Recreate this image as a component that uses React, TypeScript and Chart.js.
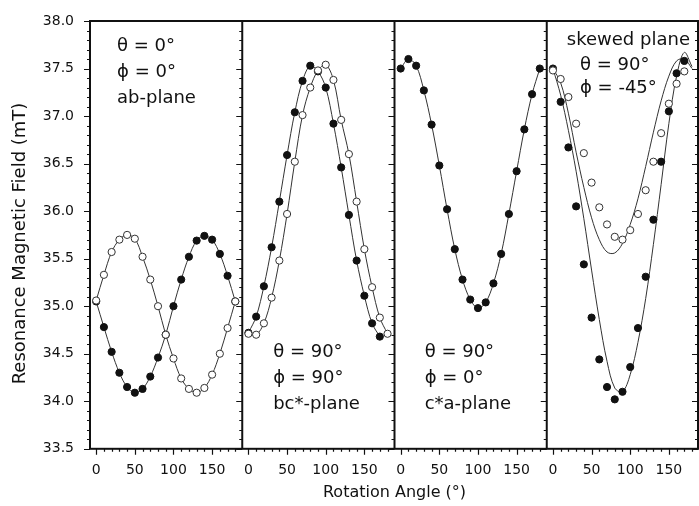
import React, { useEffect, useRef } from 'react';
import { Chart, registerables } from 'chart.js';

Chart.register(...registerables);

// ---- data ----
const ANGLES = [0, 10, 20, 30, 40, 50, 60, 70, 80, 90, 100, 110, 120, 130, 140, 150, 160, 170, 180];
const ANGLES_TO_170 = [0, 10, 20, 30, 40, 50, 60, 70, 80, 90, 100, 110, 120, 130, 140, 150, 160, 170];

// panel 1: ab-plane (theta = 0, phi = 0)
const AB_FILLED = [35.05, 34.78, 34.52, 34.30, 34.15, 34.09, 34.13, 34.26, 34.46, 34.70, 35.00, 35.28, 35.52, 35.69, 35.74, 35.70, 35.55, 35.32, 35.05];
const AB_OPEN = [35.06, 35.33, 35.57, 35.70, 35.75, 35.71, 35.52, 35.28, 35.00, 34.70, 34.45, 34.24, 34.13, 34.09, 34.14, 34.28, 34.50, 34.77, 35.05];

// panel 2: bc*-plane (theta = 90, phi = 90)
const BC_FILLED = [34.72, 34.89, 35.21, 35.62, 36.10, 36.59, 37.04, 37.37, 37.53, 37.47, 37.30, 36.92, 36.46, 35.96, 35.48, 35.11, 34.82, 34.68];
const BC_OPEN = [34.71, 34.70, 34.82, 35.09, 35.48, 35.97, 36.52, 37.01, 37.30, 37.48, 37.54, 37.38, 36.96, 36.60, 36.10, 35.60, 35.20, 34.88, 34.71];

// panel 3: c*a-plane (theta = 90, phi = 0)
const CA_FILLED = [37.50, 37.60, 37.53, 37.27, 36.91, 36.48, 36.02, 35.60, 35.28, 35.07, 34.98, 35.04, 35.24, 35.55, 35.97, 36.42, 36.86, 37.23, 37.50];

// panel 4: skewed plane (theta = 90, phi = -45)
const SK_FILLED = [37.50, 37.15, 36.67, 36.05, 35.44, 34.88, 34.44, 34.15, 34.02, 34.10, 34.36, 34.77, 35.31, 35.91, 36.52, 37.05, 37.45, 37.58];
const SK_OPEN = [37.48, 37.39, 37.20, 36.92, 36.61, 36.30, 36.04, 35.86, 35.73, 35.70, 35.80, 35.97, 36.22, 36.52, 36.82, 37.13, 37.34, 37.47];
const SK_FILLED_FIT = [37.50, 37.22, 36.85, 36.42, 35.92, 35.38, 34.86, 34.42, 34.14, 34.10, 34.28, 34.62, 35.08, 35.65, 36.28, 36.92, 37.42, 37.67, 37.52];
const SK_OPEN_FIT = [37.50, 37.35, 37.03, 36.62, 36.25, 35.93, 35.70, 35.57, 35.56, 35.66, 35.86, 36.13, 36.47, 36.83, 37.16, 37.42, 37.58, 37.60, 37.50];

// axes
const Y_MIN = 33.5;
const Y_MAX = 38.0;
const Y_TICKS = [33.5, 34.0, 34.5, 35.0, 35.5, 36.0, 36.5, 37.0, 37.5, 38.0];
const Y_MINOR_STEP = 0.1;
const X_MIN = -8;
const X_MAX = 189;
const X_TICKS = [0, 50, 100, 150];
const X_MINOR = [0, 10, 20, 30, 40, 50, 60, 70, 80, 90, 100, 110, 120, 130, 140, 150, 160, 170, 180];
const PANELS = ['x1', 'x2', 'x3', 'x4'];

const Y_TITLE = 'Resonance Magnetic Field (mT)   ';
const X_TITLE = 'Rotation Angle (°)';

const PANEL_LABELS = [
  { axis: 'x1', x: 27, y: 37.73, lines: ['θ = 0°', 'ϕ = 0°', 'ab-plane'], step: 26 },
  { axis: 'x2', x: 32, y: 34.51, lines: ['θ = 90°', 'ϕ = 90°', 'bc*-plane'], step: 26 },
  { axis: 'x3', x: 31, y: 34.51, lines: ['θ = 90°', 'ϕ = 0°', 'c*a-plane'], step: 26 },
  { axis: 'x4', x: 18, y: 37.80, lines: ['skewed plane'], step: 26 },
  { axis: 'x4', x: 35, y: 37.53, lines: ['θ = 90°', 'ϕ = -45°'], step: 23 },
];

const FONT = 'DejaVu Sans';
const INK = '#111';

const pts = (xs: number[], ys: number[]) => xs.map((x, i) => ({ x, y: ys[i] }));

const filledStyle = { pointRadius: 3.6, pointBackgroundColor: '#111', pointBorderColor: '#111', pointBorderWidth: 1 };
const openStyle = { pointRadius: 3.6, pointBackgroundColor: '#fff', pointBorderColor: '#333', pointBorderWidth: 1 };
const lineStyle = { borderColor: '#333', borderWidth: 1, tension: 0.35 };

const framePlugin = {
  id: 'frame',
  afterDatasetsDraw(chart: any) {
    const { ctx, chartArea: ca, scales } = chart;
    const y = scales.y;
    ctx.save();
    ctx.strokeStyle = INK;
    ctx.lineWidth = 2;
    ctx.strokeRect(ca.left, ca.top, ca.right - ca.left - 1, ca.bottom - ca.top);
    const verticals = [ca.left, ...PANELS.map((id) => Math.min(scales[id].right, ca.right - 1))];
    ctx.beginPath();
    for (const vx of verticals) {
      ctx.moveTo(vx, ca.top);
      ctx.lineTo(vx, ca.bottom);
    }
    ctx.stroke();
    ctx.lineWidth = 1.2;
    ctx.beginPath();
    const n = Math.round((Y_MAX - Y_MIN) / Y_MINOR_STEP);
    for (const vx of verticals) {
      for (let i = 0; i <= n; i++) {
        const py = Math.round(y.getPixelForValue(Y_MIN + i * Y_MINOR_STEP)) + 0.5;
        const len = i % 5 === 0 ? 6 : 3;
        ctx.moveTo(vx - len, py);
        ctx.lineTo(vx, py);
      }
    }
    for (const id of PANELS) {
      const s = scales[id];
      for (const a of X_MINOR) {
        const px = Math.round(s.getPixelForValue(a)) + 0.5;
        const len = a % 50 === 0 ? 6 : 3;
        ctx.moveTo(px, ca.bottom);
        ctx.lineTo(px, ca.bottom + len);
      }
    }
    ctx.stroke();
    ctx.restore();
  },
};

const labelPlugin = {
  id: 'panelLabels',
  afterDatasetsDraw(chart: any) {
    const { ctx, scales } = chart;
    ctx.save();
    ctx.font = `18px "${FONT}"`;
    ctx.fillStyle = INK;
    ctx.textAlign = 'left';
    ctx.textBaseline = 'middle';
    for (const lab of PANEL_LABELS) {
      const px = scales[lab.axis].getPixelForValue(lab.x);
      const py = scales.y.getPixelForValue(lab.y);
      lab.lines.forEach((t, i) => ctx.fillText(t, px, py + i * lab.step));
    }
    ctx.restore();
  },
};

const xAxis = () => ({
  type: 'linear',
  position: 'bottom',
  stack: 'panels',
  stackWeight: 1,
  min: X_MIN,
  max: X_MAX,
  afterBuildTicks: (s: any) => {
    s.ticks = X_TICKS.map((v) => ({ value: v }));
  },
  afterFit: (s: any) => {
    s.height = 30;
  },
  ticks: {
    autoSkip: false,
    maxRotation: 0,
    padding: 0,
    color: INK,
    font: { family: FONT, size: 14 },
    callback: (v: number) => String(v),
  },
  grid: { display: false, drawTicks: true, tickLength: 13 },
  border: { display: false },
});

export default function App() {
  const ref = useRef<HTMLCanvasElement>(null);

  useEffect(() => {
    if (!ref.current) return;
    const chart = new Chart(ref.current, {
      type: 'scatter',
      data: {
        datasets: [
          // panel 1
          { xAxisID: 'x1', data: pts(ANGLES, AB_OPEN), showLine: true, ...lineStyle, ...openStyle },
          { xAxisID: 'x1', data: pts(ANGLES, AB_FILLED), showLine: true, ...lineStyle, ...filledStyle },
          // panel 2
          { xAxisID: 'x2', data: pts(ANGLES, BC_OPEN), showLine: true, ...lineStyle, ...openStyle },
          { xAxisID: 'x2', data: pts(ANGLES_TO_170, BC_FILLED), showLine: true, ...lineStyle, ...filledStyle },
          // panel 3
          { xAxisID: 'x3', data: pts(ANGLES, CA_FILLED), showLine: true, ...lineStyle, ...filledStyle },
          // panel 4
          { xAxisID: 'x4', data: pts(ANGLES_TO_170, SK_OPEN), showLine: false, ...openStyle },
          { xAxisID: 'x4', data: pts(ANGLES_TO_170, SK_FILLED), showLine: false, ...filledStyle },
          { xAxisID: 'x4', data: pts(ANGLES, SK_OPEN_FIT), showLine: true, pointRadius: 0, ...lineStyle },
          { xAxisID: 'x4', data: pts(ANGLES, SK_FILLED_FIT), showLine: true, pointRadius: 0, ...lineStyle },
        ] as any,
      },
      options: {
        animation: false,
        responsive: false,
        layout: { autoPadding: false, padding: { top: 21, right: 0, left: 0, bottom: 0 } },
        plugins: {
          legend: { display: false },
          tooltip: { enabled: false },
          title: {
            display: true,
            text: X_TITLE,
            position: 'bottom',
            fullSize: false,
            color: INK,
            font: { family: FONT, size: 16, weight: 'normal' },
            padding: { top: 4, bottom: 4 },
          },
        },
        scales: {
          x1: xAxis(),
          x2: xAxis(),
          x3: xAxis(),
          x4: xAxis(),
          y: {
            type: 'linear',
            position: 'left',
            min: Y_MIN,
            max: Y_MAX,
            afterBuildTicks: (s: any) => {
              s.ticks = Y_TICKS.map((v) => ({ value: v }));
            },
            afterFit: (s: any) => {
              s.width = 90;
            },
            ticks: {
              padding: 0,
              color: INK,
              font: { family: FONT, size: 14 },
              callback: (v: number) => Number(v).toFixed(1),
            },
            grid: { display: false, drawTicks: true, tickLength: 16 },
            border: { display: false },
            title: {
              display: true,
              text: Y_TITLE,
              color: INK,
              font: { family: FONT, size: 18 },
              padding: { top: 10, bottom: 0 },
            },
          },
        } as any,
      },
      plugins: [framePlugin, labelPlugin],
    });
    return () => chart.destroy();
  }, []);

  return (
    <div style={{ position: 'fixed', left: 0, top: 0, width: 699, height: 506, background: '#fff' }}>
      <canvas ref={ref} width={699} height={506} style={{ display: 'block' }} />
    </div>
  );
}
